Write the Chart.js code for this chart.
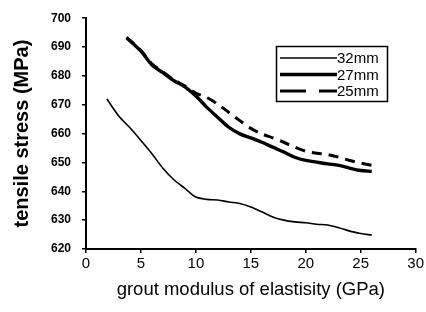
<!DOCTYPE html>
<html><head><meta charset="utf-8">
<script src="https://cdn.jsdelivr.net/npm/chart.js@4/dist/chart.umd.min.js"></script>
<style>html,body{margin:0;padding:0;background:#fff}#c{display:block}</style>
</head><body>
<canvas id="c" width="426" height="312"></canvas>
<script>
const x32 = [1.9,3,4,5,6,7,8,9,10,11,12,13,14,15,16,17,18,19,20,21,22,23,24,25,26];
const y32 = [672,666,662,657.6,653,648,644,641,638,637.2,637,636.3,635.8,634.6,632.9,631.1,630,629.4,629.1,628.6,628.3,627.4,626.2,625.4,624.8];
const x27 = [3.7,5,6,7,8,9,10,11,12,13,14,15,16,17,18,19,20,21,22,23,24,25,26];
const y27 = [693.2,688.6,683.8,681.1,678.3,676.2,673,669.1,665.6,662.2,659.9,658.5,657,655.3,653.6,651.8,650.7,650.1,649.5,649,648,647.2,646.9];
const x25 = [3.7,5,6,7,8,9,10,11,12,13,14,15,16,17,18,19,20,21,22,23,24,25,26];
const y25 = [693.4,688.8,684.2,681.4,678.6,676.5,674,672.5,670.2,667.3,664.5,661.8,659.9,658.5,657,655.3,653.9,653.2,652.7,651.8,650.7,649.8,649];
const labels = ['32mm','27mm','25mm'];
const xTicks = [0,5,10,15,20,25,30];
const yTicks = [620,630,640,650,660,670,680,690,700];

const pts = (xs, ys) => xs.map((v,i)=>({x:v,y:ys[i]}));
const FONT = 'Arial, "Liberation Sans", sans-serif';

const legendPlugin = {
  id:'boxLegend',
  afterDraw(chart){
    const ctx = chart.ctx;
    ctx.save();
    ctx.strokeStyle='#000'; ctx.lineWidth=1.5;
    ctx.strokeRect(276.5,46.5,111,55);
    ctx.font='15px ' + FONT;
    ctx.textBaseline='middle';
    ctx.fillStyle='#000';
    const samples = [[],[],[26,13,17,0]];
    chart.data.datasets.forEach((ds,i)=>{
      const y = 58 + i*16.5;
      ctx.beginPath();
      ctx.lineWidth = ds.borderWidth;
      ctx.setLineDash(samples[i]);
      ctx.moveTo(280,y); ctx.lineTo(337,y); ctx.stroke();
      ctx.setLineDash([]);
      ctx.fillText(ds.label,337,y+1);
    });
    ctx.restore();
  }
};

new Chart(document.getElementById('c'),{
  type:'scatter',
  data:{datasets:[
    {label:labels[0],data:pts(x32,y32),showLine:true,borderColor:'#000',borderWidth:1.6,pointRadius:0,tension:0.3},
    {label:labels[1],data:pts(x27,y27),showLine:true,borderColor:'#000',borderWidth:3.4,pointRadius:0,tension:0.3},
    {label:labels[2],data:pts(x25,y25),showLine:true,borderColor:'#000',borderWidth:3,borderDash:[10,7],pointRadius:0,tension:0.3}
  ]},
  options:{
    responsive:false,animation:false,
    layout:{padding:{top:17,right:7,left:0,bottom:0}},
    plugins:{legend:{display:false},tooltip:{enabled:false}},
    scales:{
      x:{type:'linear',min:0,max:30,
        afterFit(s){s.height=63;},
        afterBuildTicks(s){s.ticks=xTicks.map(v=>({value:v}));},
        border:{color:'#000',width:2},
        grid:{display:true,drawOnChartArea:false,color:'#000',tickLength:4,lineWidth:1.5},
        ticks:{color:'#000',font:{family:FONT,size:15},padding:2},
        title:{display:true,text:'grout modulus of elastisity (GPa)',color:'#000',font:{family:FONT,size:18.5},padding:{top:4,bottom:11}}
      },
      y:{min:620,max:700,
        afterFit(s){s.width=86;},
        afterBuildTicks(s){s.ticks=yTicks.map(v=>({value:v}));},
        border:{color:'#000',width:2},
        grid:{display:true,drawOnChartArea:false,color:'#000',tickLength:4,lineWidth:1.5},
        ticks:{color:'#000',font:{family:FONT,size:12,weight:'bold'},padding:11},
        title:{display:true,text:'tensile stress (MPa)',color:'#000',font:{family:FONT,size:20,weight:'bold'},padding:{top:10,bottom:4}}
      }
    }
  },
  plugins:[legendPlugin]
});
</script>
</body></html>
